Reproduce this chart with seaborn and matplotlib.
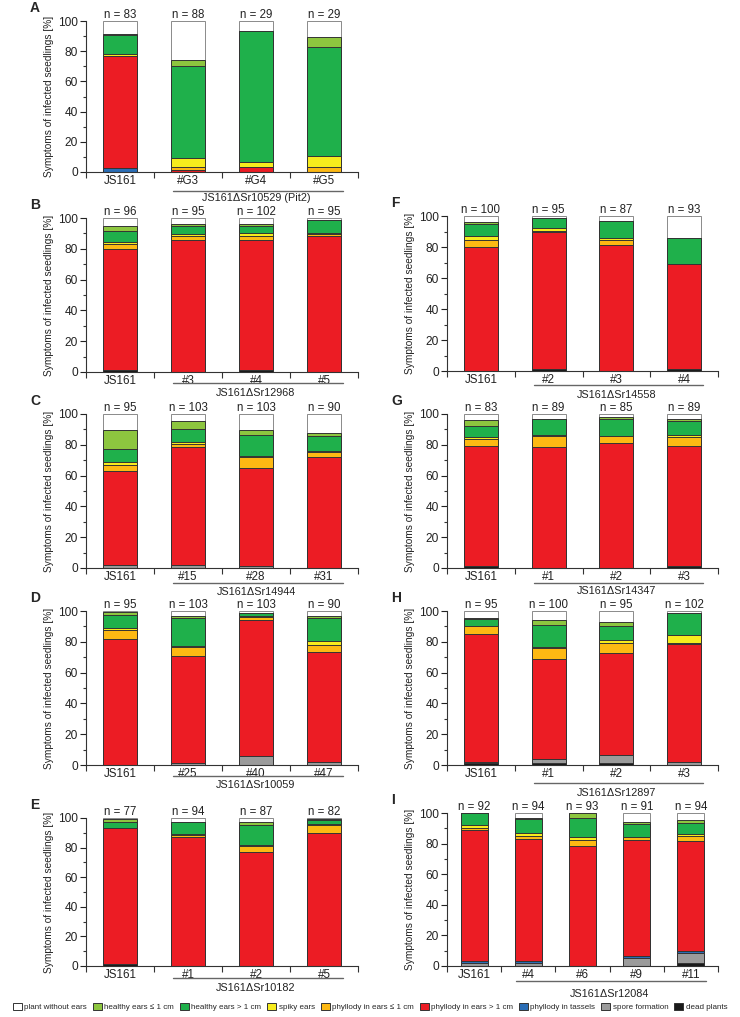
import numpy as np
import pandas as pd
import matplotlib
matplotlib.use("Agg")
import matplotlib.pyplot as plt
import matplotlib.transforms as mtransforms
from matplotlib.patches import Patch
import seaborn as sns

sns.set_style("ticks")
plt.rcParams['font.family'] = ['Liberation Sans', 'DejaVu Sans']

# symptom classes, bottom -> top of each stack
classes = ["dead plants", "spore formation", "phyllody in tassels",
           "phyllody in ears > 1 cm", "phyllody in ears \u2264 1 cm", "spiky ears",
           "healthy ears > 1 cm", "healthy ears \u2264 1 cm", "plant without ears"]
colors = ["#1a1a1a", "#9b9b9b", "#2a6db5", "#ec1c24", "#fdb913", "#f7ec1d",
          "#1fb04b", "#8dc63f", "#ffffff"]
legend_order = [8, 7, 6, 5, 4, 3, 2, 1, 0]

# values per bar in % (same order as classes)
A_ticks = ["JS161", "#G3", "#G4", "#G5"]
A_n = [83, 88, 29, 29]
A_vals = [[0, 0, 2.4, 74.7, 0, 1.2, 12.1, 1.2, 8.4],
          [0, 0, 0, 1.1, 2.3, 5.7, 61.4, 3.4, 26.1],
          [0, 0, 0, 3.4, 0, 3.5, 86.2, 0, 6.9],
          [0, 0, 0, 0, 3.4, 6.9, 72.4, 6.9, 10.4]]
A_group = "JS161\u0394Sr10529 (Pit2)"

B_ticks = ["JS161", "#3", "#4", "#5"]
B_n = [96, 95, 102, 95]
B_vals = [[1, 0, 0, 79, 3.3, 1, 7.5, 3, 5.2],
          [0, 0, 0, 85.5, 3, 1, 5.5, 1, 4],
          [1, 0, 0, 85, 2.5, 1.5, 5, 1, 4],
          [0, 0, 0, 88.5, 1, 1, 8.5, 0, 1]]
B_group = "JS161\u0394Sr12968"

C_ticks = ["JS161", "#15", "#28", "#31"]
C_n = [95, 103, 103, 90]
C_vals = [[0, 2, 0, 61, 4, 2, 8.5, 12, 10.5],
          [0, 2, 0, 76.5, 2, 1.5, 8.5, 5, 4.5],
          [0, 1, 0, 64, 7, 1, 13.5, 3, 10.5],
          [0, 0, 0, 72, 3.5, 0.5, 9.5, 2, 12.5]]
C_group = "JS161\u0394Sr14944"

D_ticks = ["JS161", "#25", "#40", "#47"]
D_n = [95, 103, 103, 90]
D_vals = [[0, 0, 0, 82, 5.5, 1.5, 8.5, 2, 0.5],
          [0, 1, 0, 70, 5.5, 1, 18, 1, 3.5],
          [0, 6, 0, 88, 2, 0.5, 2, 0.5, 1],
          [0, 2, 0, 71.5, 4.5, 2.5, 15, 1, 3.5]]
D_group = "JS161\u0394Sr10059"

E_ticks = ["JS161", "#1", "#2", "#5"]
E_n = [77, 94, 87, 82]
E_vals = [[1.3, 0, 0, 92.2, 0, 0, 4, 1.5, 1],
          [0, 0, 0, 87, 1.5, 1, 7.5, 0, 3],
          [0, 0, 0, 77, 4, 0.5, 14, 1.5, 3],
          [0, 0, 0, 90, 5, 1, 2.5, 0.5, 1]]
E_group = "JS161\u0394Sr10182"

F_ticks = ["JS161", "#2", "#3", "#4"]
F_n = [100, 95, 87, 93]
F_vals = [[0, 0, 0, 80, 4.5, 2.5, 8, 1, 4],
          [1, 0, 0, 88.5, 1, 1.5, 7, 0, 1],
          [0, 0, 0, 81.5, 3, 1, 11, 0, 3.5],
          [1.5, 0, 0, 67.5, 0, 0, 17, 0, 14]]
F_group = "JS161\u0394Sr14558"

G_ticks = ["JS161", "#1", "#2", "#3"]
G_n = [83, 89, 85, 89]
G_vals = [[1.2, 0, 0, 78.3, 4.5, 1, 7.5, 3.5, 4],
          [0, 0, 0, 78.5, 7.5, 0.5, 10, 0, 3.5],
          [0, 0, 0, 81, 4.5, 0.5, 10.5, 1.5, 2],
          [1.2, 0, 0, 78.3, 5.5, 1.5, 9, 1.5, 3]]
G_group = "JS161\u0394Sr14347"

H_ticks = ["JS161", "#1", "#2", "#3"]
H_n = [95, 100, 95, 102]
H_vals = [[1, 1, 0, 83, 5, 0.5, 4, 1, 4.5],
          [1, 3, 0, 65, 7, 0.5, 14.5, 3, 6],
          [1, 5.5, 0, 66, 7, 1.5, 9.5, 2.5, 7],
          [0, 2, 0, 76.5, 1, 5, 14.5, 0, 1]]
H_group = "JS161\u0394Sr12897"

I_ticks = ["JS161", "#4", "#6", "#9", "#11"]
I_n = [92, 94, 93, 91, 94]
I_vals = [[0, 2.2, 1.1, 85.7, 1, 2, 8, 0, 0],
          [0, 2.1, 1.1, 79.8, 2, 2, 9, 1, 3],
          [0, 0, 0, 78.5, 4, 2, 12, 3.5, 0],
          [0, 5.5, 1.1, 75.9, 1.5, 0.5, 8, 1.5, 6],
          [2, 6.5, 1, 72, 3.5, 1, 7.5, 2, 4.5]]
I_group = "JS161\u0394Sr12084"

W, H = 740, 1017
fig = plt.figure(figsize=(W / 100, H / 100), dpi=100)

# (letter, ticks, n, vals, group, x0, x1, ytop, ybottom, line dy, label dy) in pixels
panels = [
    ("A", A_ticks, A_n, A_vals, A_group, 86, 358, 21, 172, 19, 26),
    ("B", B_ticks, B_n, B_vals, B_group, 86, 358, 218, 372, 11, 21),
    ("C", C_ticks, C_n, C_vals, C_group, 86, 358, 414, 568, 15, 24),
    ("D", D_ticks, D_n, D_vals, D_group, 86, 358, 611, 765, 11, 20),
    ("E", E_ticks, E_n, E_vals, E_group, 86, 358, 818, 966, 12, 22),
    ("F", F_ticks, F_n, F_vals, F_group, 447, 718, 216, 371, 14, 24),
    ("G", G_ticks, G_n, G_vals, G_group, 447, 718, 414, 568, 15, 23),
    ("H", H_ticks, H_n, H_vals, H_group, 447, 718, 611, 765, 18, 28),
    ("I", I_ticks, I_n, I_vals, I_group, 447, 718, 813, 966, 15, 28),
]

txt = "#222222"
for letter, ticks, n, vals, group, x0, x1, yt, yb, dl, dg in panels:
    ax = fig.add_axes([x0 / W, 1 - yb / H, (x1 - x0) / W, (yb - yt) / H])
    df = pd.DataFrame(vals, columns=classes)
    df["line"] = ticks
    cum = df[classes].cumsum(axis=1)
    # draw tallest cumulative first so lower segments overlay
    for k in range(len(classes) - 1, -1, -1):
        edge = "#8a8a8a" if k == len(classes) - 1 else "#333333"
        sns.barplot(x=df["line"], y=cum[classes[k]], order=ticks, color=colors[k],
                    saturation=1, width=0.5, edgecolor=edge, linewidth=0.7,
                    errorbar=None, ax=ax)
    nb = len(ticks)
    ax.set_xlim(-0.5, nb - 0.5)
    ax.set_ylim(0, 100)
    ax.set_yticks(np.arange(0, 101, 20))
    ax.set_yticks(np.arange(0, 101, 10), minor=True)
    ax.set_xticks(np.arange(nb))
    ax.set_xticklabels(ticks)
    ax.set_xticks(np.arange(nb + 1) - 0.5, minor=True)
    ax.tick_params(axis="x", which="major", length=0, pad=2, labelsize=8.4, colors=txt)
    ax.tick_params(axis="x", which="minor", length=4, width=0.8, color="#333333")
    ax.tick_params(axis="y", which="major", length=4, width=0.8, labelsize=8.6,
                   colors=txt, pad=2)
    ax.tick_params(axis="y", which="minor", length=2, width=0.8, color="#333333")
    ax.set_xlabel("")
    ax.set_ylabel("Symptoms of infected seedlings [%]", fontsize=7.3, color=txt, labelpad=3)
    sns.despine(ax=ax)
    for s in ("left", "bottom"):
        ax.spines[s].set_linewidth(0.8)
        ax.spines[s].set_color("#333333")
    for i, nn in enumerate(n):
        ax.text(i, 100.3, f"n = {nn}", ha="center", va="bottom", fontsize=8.3, color=txt)
    trans = mtransforms.blended_transform_factory(ax.transData, ax.transAxes)
    hpx = yb - yt
    ax.plot([0.78, nb - 0.72], [-dl / hpx, -dl / hpx], transform=trans, color="#666666",
            lw=1.0, clip_on=False)
    ax.text((1 + nb - 1) / 2, -dg / hpx, group, transform=trans, ha="center",
            va="center", fontsize=7.8, color=txt)
    fig.text((x0 - 56) / W, 1 - (yt - 13) / H, letter, fontsize=10, fontweight="bold",
             ha="left", va="center")

handles = [Patch(facecolor=colors[k], edgecolor="#333333", linewidth=0.7, label=classes[k])
           for k in legend_order]
fig.legend(handles=handles, loc="center", bbox_to_anchor=(0.5, 1 - 1007 / H), ncol=9,
           frameon=False, fontsize=5.8, handlelength=1.1, handleheight=1.1,
           handletextpad=0.3, columnspacing=0.75, borderaxespad=0)

fig.savefig("out.png", dpi=100)
